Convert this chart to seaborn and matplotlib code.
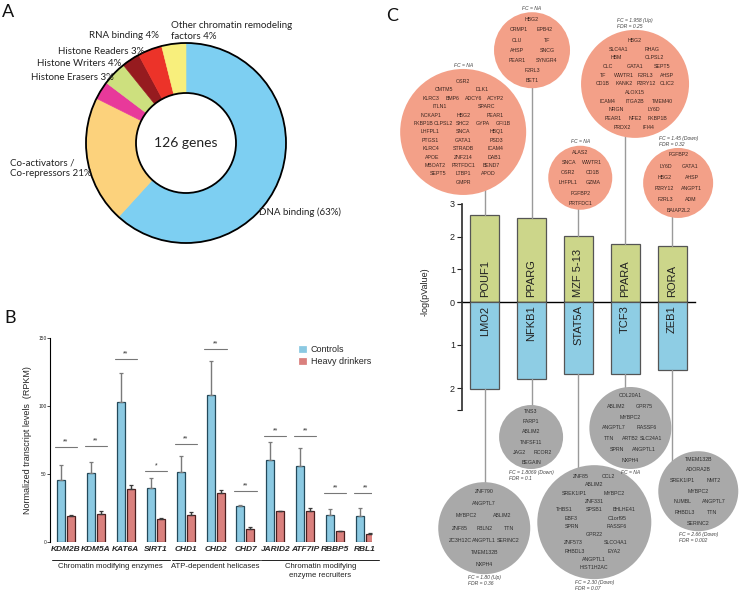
"""
Three-panel figure: chromatin gene categories (A), transcript levels in
controls vs heavy drinkers (B) and TF enrichment with target bubbles (C).
"""
import numpy as np
import pandas as pd
import matplotlib
matplotlib.use("Agg")
import matplotlib.pyplot as plt
from matplotlib import font_manager
import seaborn as sns

# ---- Panel A: gene categories ----
pie_texts = ["DNA binding (63%)", "Co-activators /\nCo-repressors 21%", "Histone Erasers 3%",
             "Histone Writers 4%", "Histone Readers 3%", "RNA binding 4%",
             "Other chromatin remodeling\nfactors 4%"]
pie_pct = [63, 21, 3, 4, 3, 4, 4]
n_genes_total = 126

# ---- Panel B: transcript levels (RPKM) ----
b_genes = ["KDM2B", "KDM5A", "KAT6A", "SIRT1", "CHD1", "CHD2", "CHD7",
           "JARID2", "ATF7IP", "RBBP5", "RBL1"]
ctrl_mean = [45.7, 50.4, 102.6, 39.5, 51.6, 108.0, 26.7, 60.5, 55.6, 19.5, 19.0]
ctrl_err = [11.1, 8.2, 21.9, 7.7, 11.4, 25.0, 0.5, 12.9, 13.6, 4.5, 5.7]
hd_mean = [18.8, 20.8, 38.8, 16.6, 20.0, 35.8, 9.9, 22.5, 23.0, 7.9, 5.7]
hd_err = [1.2, 1.7, 3.0, 1.2, 2.0, 2.5, 1.0, 0.5, 2.0, 0.3, 0.6]
sig_marks = ["**", "**", "**", "*", "**", "**", "**", "**", "**", "**", "**"]
sig_level = [69.7, 70.4, 134.7, 52.4, 71.9, 141.9, 37.3, 77.8, 77.8, 35.8, 35.8]
b_groups = ["Chromatin modifying enzymes", "ATP-dependent helicases",
            "Chromatin modifying\nenzyme recruiters"]
b_group_size = [4, 3, 4]
b_hue = ["Controls", "Heavy drinkers"]

# ---- Panel C: TF enrichment ----
tf_up = ["POUF1", "PPARG", "MZF 5-13", "PPARA", "RORA"]
logp_up = [2.65, 2.58, 2.03, 1.77, 1.72]
tf_down = ["LMO2", "NFKB1", "STAT5A", "TCF3", "ZEB1"]
logp_down = [2.02, 1.78, 1.67, 1.67, 1.58]
fc_up = ["FC = NA", "FC = NA", "FC = NA", "FC = 1.958 (Up)\nFDR = 0.25",
         "FC = 1.45 (Down)\nFDR = 0.32"]
fc_down = ["FC = 1.80 (Up)\nFDR = 0.36", "FC = 1.8069 (Down)\nFDR = 0.1",
           "FC = 2.30 (Down)\nFDR = 0.07", "FC = NA", "FC = 2.66 (Down)\nFDR = 0.002"]
targets_up = [
    [["OSR2"], ["CMTM5", "DLK1"], ["KLRC3", "BMP6", "ADCY6", "ACYP2"], ["ITLN1", "SPARC"],
     ["NCKAP1", "HBG2", "PEAR1"], ["FKBP1B", "CLPSL2", "SHC2", "GYPA", "GFI1B"],
     ["LHFPL1", "SNCA", "HBQ1"], ["PTGS1", "GATA1", "PSD3"], ["KLRC4", "STRADB", "ICAM4"],
     ["APOE", "ZNF214", "DAB1"], ["MBOAT2", "PRTFDC1", "BEND7"], ["SEPT5", "LTBP1", "APOD"],
     ["GMPR"]],
    [["HBG2"], ["CRMP1", "EPB42"], ["CLU", "TF"], ["AHSP", "SNCG"], ["PEAR1", "SYNGR4"],
     ["F2RL3"], ["BET1"]],
    [["ALAS2"], ["SNCA", "WWTR1"], ["OSR2", "CD1B"], ["LHFPL1", "GZMA"], ["FGFBP2"],
     ["PRTFDC1"]],
    [["HBG2"], ["SLC4A1", "RHAG"], ["HBM", "CLPSL2"], ["CLC", "GATA1", "SEPT5"],
     ["TF", "WWTR1", "F2RL3", "AHSP"], ["CD1B", "KANK2", "P2RY12", "CLIC2"], ["ALOX15"],
     ["ICAM4", "ITGA2B", "TMEM40"], ["NRGN", "LY6D"], ["PEAR1", "NFE2", "FKBP1B"],
     ["PRDX2", "IFI44"]],
    [["FGFBP2"], ["LY6D", "GATA1"], ["HBG2", "AHSP"], ["P2RY12", "ANGPT1"], ["F2RL3", "ADM"],
     ["BAIAP2L2"]],
]
targets_down = [
    [["ZNF790"], ["ANGPTL7"], ["MYBPC2", "ABLIM2"], ["ZNF85", "FBLN2", "TTN"],
     ["ZC3H12C", "ANGPTL1", "SERINC2"], ["TMEM132B"], ["NXPH4"]],
    [["TNS3"], ["FARP1"], ["ABLIM2"], ["TNFSF11"], ["JAG2", "RCOR2"], ["BEGAIN"]],
    [["ZNF85", "CCL2"], ["ABLIM2"], ["SREK1IP1", "MYBPC2"], ["ZNF331"],
     ["THBS1", "SPSB1", "BHLHE41"], ["EBF3", "C1orf95"], ["SPRN", "RASSF6"], ["GPR22"],
     ["ZNF573", "SLCO4A1"], ["RHBDL3", "EYA2"], ["ANGPTL1"], ["HIST1H2AC"]],
    [["COL20A1"], ["ABLIM2", "GPR75"], ["MYBPC2"], ["ANGPTL7", "RASSF6"],
     ["TTN", "ARTB2", "SLC24A1"], ["SPRN", "ANGPTL1"], ["NXPH4"]],
    [["TMEM132B"], ["ADORA2B"], ["SREK1IP1", "NMT2"], ["MYBPC2"], ["NUMBL", "ANGPTL7"],
     ["RHBDL3", "TTN"], ["SERINC2"]],
]

# ---- layout / style ----
W, H = 750, 590
PIE_COLORS = ["#7dcff2", "#fcd27c", "#e8399a", "#cde07e", "#961b1f", "#ec3329", "#f8ef7c"]
# label anchor in pixels (x, y, ha)
PIE_LABEL_POS = [(259, 212, "left"), (10, 168, "left"), (114, 78, "right"),
                 (121, 64, "right"), (144, 51, "right"), (159, 35, "right"),
                 (171, 31, "left")]
BLUE, RED = "#7ccff0", "#ea716d"
GREEN, SALMON, GREY = "#d5e27e", "#f3a088", "#a9a9a9"
# bubble centre (bar-index units, axis units) and diameter in pixels
BUBBLE_UP = [(-0.46, 5.2, 126), (1.01, 7.7, 76), (2.04, 3.8, 64), (3.21, 6.67, 108),
             (4.13, 3.64, 70)]
BUBBLE_DOWN = [(-0.01, 5.26, 92), (0.99, 3.14, 64), (2.34, 5.12, 114), (3.11, 2.93, 82),
               (4.56, 4.4, 80)]

sns.set_theme(style="white")
plt.rcParams["font.family"] = ["Liberation Sans", "DejaVu Sans"]

# a condensed face for the crowded panel B labels, if one is installed
_installed = {f.name for f in font_manager.fontManager.ttflist}
if "Liberation Sans Narrow" in _installed:
    NARROW, GENE_FS, GROUP_FS = ["Liberation Sans Narrow", "DejaVu Sans"], 7.2, 6.6
else:
    NARROW, GENE_FS, GROUP_FS = ["Liberation Sans", "DejaVu Sans"], 6.0, 5.6

fig = plt.figure(figsize=(W / 100, H / 100), dpi=100)


def px_axes(x0, y0, x1, y1):
    return fig.add_axes([x0 / W, 1 - y1 / H, (x1 - x0) / W, (y1 - y0) / H])


def px_text(x, y, s, **kw):
    return fig.text(x / W, 1 - y / H, s, **kw)


# ================= Panel A =================
ax_a = px_axes(86, 43, 286, 243)
wedges, _ = ax_a.pie(pie_pct, colors=PIE_COLORS, startangle=90, counterclock=False,
                     radius=1, wedgeprops=dict(width=0.5, linewidth=0.4))
for w in wedges:
    w.set_edgecolor(w.get_facecolor())
for rad in (1.0, 0.5):
    ax_a.add_patch(plt.Circle((0, 0), rad, fill=False, ec="black", lw=1.3, clip_on=False))
ax_a.text(0, 0, f"{n_genes_total} genes", ha="center", va="center", fontsize=10,
          family="Lato", color="#222")
ax_a.set_xlim(-1, 1)
ax_a.set_ylim(-1, 1)
ax_a.set_aspect("equal")
ax_a.axis("off")
for txt, (x, y, ha) in zip(pie_texts, PIE_LABEL_POS):
    px_text(x, y, txt, ha=ha, va="center", fontsize=7, family="Lato", color="#222",
            linespacing=1.25)

# ================= Panel B =================
n = len(b_genes)
df_b = pd.DataFrame({
    "gene": b_genes * 2,
    "group": [b_hue[0]] * n + [b_hue[1]] * n,
    "value": ctrl_mean + hd_mean,
})
ax_b = px_axes(50, 338, 372, 542)
sns.barplot(data=df_b, x="gene", y="value", hue="group", palette=[BLUE, RED],
            width=0.67, gap=0.2, errorbar=None, linewidth=0.9, ax=ax_b)
for cont, errs, ec, errc in zip(ax_b.containers, [ctrl_err, hd_err],
                                ["#23495a", "#4a1f1f"], ["#7a7a7a", "#3a3a3a"]):
    xs, hs = [], []
    for p in cont:
        p.set_edgecolor(ec)
        xs.append(p.get_x() + p.get_width() / 2)
        hs.append(p.get_height())
    ax_b.errorbar(xs, hs, yerr=[np.zeros(n), errs], fmt="none", ecolor=errc,
                  elinewidth=1.0, capsize=1.6, capthick=0.9, zorder=1)

for i, (mark, lvl) in enumerate(zip(sig_marks, sig_level)):
    ax_b.plot([i - 0.37, i + 0.37], [lvl, lvl], color="#777", lw=0.8)
    ax_b.text(i, lvl + 1.2, mark, ha="center", va="bottom", fontsize=5, color="#333")

ax_b.set_xlim(-0.535, 10.23)
ax_b.set_ylim(0, 150)
for s in ("top", "right", "bottom"):
    ax_b.spines[s].set_visible(False)
ax_b.spines["left"].set_color("black")
ax_b.spines["left"].set_linewidth(0.8)
ax_b.set_yticks([0, 50, 100, 150])
ax_b.tick_params(axis="y", labelsize=3.5, length=2, width=0.6, pad=0.5, left=True,
                 direction="out")
ax_b.tick_params(axis="x", length=0, pad=3)
for lab in ax_b.get_xticklabels():
    lab.set_fontweight("bold")
    lab.set_fontstyle("italic")
    lab.set_fontsize(GENE_FS)
    lab.set_family(NARROW)
ax_b.set_xlabel("")
ax_b.set_ylabel("Normalized transcript levels  (RPKM)", fontsize=6.5)
ax_b.yaxis.set_label_coords(-0.055, 0.5)
ax_b.legend(loc="upper left", bbox_to_anchor=(0.77, 0.965), frameon=False, fontsize=6.5,
            handlelength=1.0, handleheight=1.0, handletextpad=0.4, labelspacing=0.25,
            borderpad=0, borderaxespad=0)

trans = ax_b.get_xaxis_transform()
start = 0
for label, size in zip(b_groups, b_group_size):
    x0, x1 = start - 0.47, start + size - 1 + 0.47
    ax_b.plot([x0, x1], [-0.088, -0.088], transform=trans, clip_on=False,
              color="#222", lw=0.7)
    ax_b.text((x0 + x1) / 2, -0.105, label, transform=trans, ha="center", va="top",
              fontsize=GROUP_FS, family=NARROW, color="#222", linespacing=1.3)
    start += size

# ================= Panel C =================
ax_up = px_axes(462, 0, 695, 302)
ax_dn = px_axes(462, 302, 695, 590)
sns.barplot(x=tf_up, y=logp_up, color=GREEN, width=0.62, edgecolor="#555",
            linewidth=0.9, ax=ax_up)
sns.barplot(x=tf_down, y=logp_down, color="#7fd3f3", width=0.62, edgecolor="#555",
            linewidth=0.9, ax=ax_dn)

for ax in (ax_up, ax_dn):
    ax.set_xlim(-0.485, 4.49)
    ax.set_xticks([])
    ax.set_xlabel("")
    ax.set_ylabel("")
    ax.patch.set_alpha(0)
    for s in ("top", "right"):
        ax.spines[s].set_visible(False)
    ax.spines["left"].set_color("#333")
    ax.tick_params(axis="y", labelsize=6.5, length=3.5, width=0.8, left=True,
                   direction="out", pad=1.5, colors="#222")

ax_up.set_ylim(0, 302 / 32.7)
ax_up.spines["left"].set_bounds(0, 3)
ax_up.spines["bottom"].set_color("black")
ax_up.spines["bottom"].set_linewidth(1.0)
ax_up.set_yticks([0, 1, 2, 3])

ax_dn.set_ylim(288 / 43, 0)
ax_dn.spines["bottom"].set_visible(False)
ax_dn.spines["left"].set_bounds(0, 2.5)
ax_dn.set_yticks([0, 1, 2, 2.5])
ax_dn.set_yticklabels(["", "1", "2", ""])

for i, name in enumerate(tf_up):
    ax_up.text(i, 0.15, name, rotation=90, ha="center", va="bottom", fontsize=8,
               color="#222")
for i, name in enumerate(tf_down):
    ax_dn.text(i, 0.08, name, rotation=90, ha="center", va="top", fontsize=8,
               color="#222")

px_text(425, 292, "-log(pValue)", rotation=90, ha="center", va="center", fontsize=6.5,
        color="#222")


def draw_bubbles(ax, values, layout, rows_list, notes, color, txt_color, above):
    for i, (val, (bx, by, d), rows, note) in enumerate(zip(values, layout, rows_list, notes)):
        ax.plot([i, i], [val, by], color="#9a9a9a", lw=1.0, zorder=1, clip_on=False)
        ax.scatter([bx], [by], s=(d * 0.72) ** 2, color=color, edgecolors="none",
                   zorder=2, clip_on=False)
        r = d * 0.72 / 2
        ys = np.linspace(r * 0.8, -r * 0.8, len(rows)) if len(rows) > 1 else [0.0]
        for row, dy in zip(rows, ys):
            hw = np.sqrt(max(r ** 2 - dy ** 2, 0.0)) * 0.8
            k = len(row)
            xs = [0.0] if k == 1 else [-hw + 2 * hw * (j + 0.5) / k for j in range(k)]
            for gene, dx in zip(row, xs):
                ax.annotate(gene, xy=(bx, by), xytext=(dx, dy), textcoords="offset points",
                            ha="center", va="center", fontsize=3.8, color=txt_color,
                            zorder=3, annotation_clip=False)
        off = r + 1.0 if above else -(r + 0.8)
        ax.annotate(note, xy=(bx, by), xytext=(0, off), textcoords="offset points",
                    ha="center", va="bottom" if above else "top", multialignment="left",
                    fontsize=3.6, style="italic", color="#444", annotation_clip=False,
                    linespacing=1.1)


draw_bubbles(ax_up, logp_up, BUBBLE_UP, targets_up, fc_up, SALMON, "#3b2620", True)
draw_bubbles(ax_dn, logp_down, BUBBLE_DOWN, targets_down, fc_down, GREY, "#2e2e2e", False)

# panel letters
for letter, (x, y) in zip("ABC", [(2, 12), (4, 318), (386, 16)]):
    px_text(x, y, letter, ha="left", va="center", fontsize=13, family="Lato", color="#111")

fig.savefig("out.png", dpi=100)
